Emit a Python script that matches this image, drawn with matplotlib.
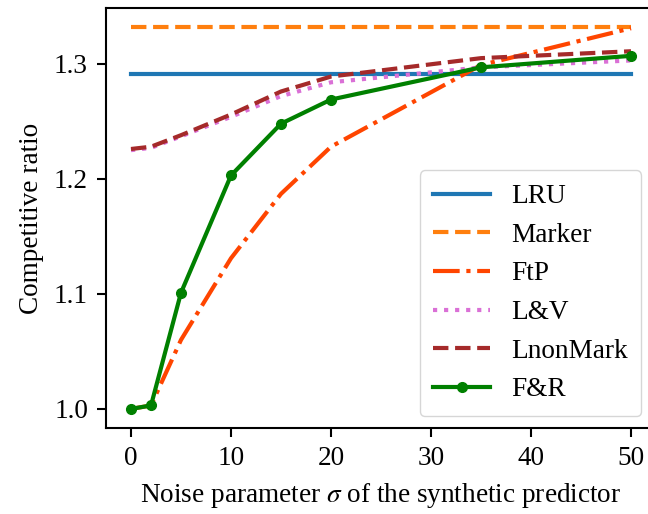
import matplotlib
matplotlib.use("Agg")
import matplotlib.pyplot as plt

sigma = [0, 2, 5, 10, 15, 20, 35, 50]
lru = [1.291] * len(sigma)
marker = [1.332] * len(sigma)
ftp = [1.000, 1.003, 1.060, 1.131, 1.187, 1.228, 1.299, 1.331]
lv = [1.225, 1.227, 1.237, 1.254, 1.272, 1.284, 1.297, 1.303]
lnonmark = [1.226, 1.228, 1.238, 1.256, 1.276, 1.289, 1.305, 1.311]
fr = [1.000, 1.003, 1.101, 1.203, 1.248, 1.269, 1.297, 1.307]

plt.rcParams['font.family'] = ['Liberation Serif', 'DejaVu Serif']
plt.rcParams['mathtext.fontset'] = 'stix'
fs = 19.6

W, H = 648, 514
fig = plt.figure(figsize=(W / 100, H / 100), dpi=100)
ax = fig.add_axes([106 / W, 1 - 428 / H, (656 - 106) / W, (428 - 8) / H])

lw = 3.0
ax.plot(sigma, lru, color='tab:blue', lw=lw, label='LRU')
ax.plot(sigma, marker, color='tab:orange', lw=lw, ls='--', label='Marker')
ax.plot(sigma, ftp, color='orangered', lw=lw, ls='-.', label='FtP')
ax.plot(sigma, lv, color='orchid', lw=lw, ls=':', label='L&V')
ax.plot(sigma, lnonmark, color='brown', lw=lw, ls='--', label='LnonMark')
ax.plot(sigma, fr, color='green', lw=lw, marker='o', ms=7, label='F&R')

ax.set_xticks([0, 10, 20, 30, 40, 50])
ax.set_yticks([1.0, 1.1, 1.2, 1.3])
ax.tick_params(labelsize=fs, width=1.5, length=6.5, pad=6.5)
for s in ax.spines.values():
    s.set_linewidth(1.5)
ax.set_xlabel(r'Noise parameter $\sigma$ of the synthetic predictor', fontsize=fs, labelpad=7)
ax.set_ylabel('Competitive ratio', fontsize=fs, labelpad=7)

ax.legend(loc='lower right', bbox_to_anchor=(641 / W, 1 - 416 / H),
          bbox_transform=fig.transFigure, borderaxespad=0, fontsize=fs,
          handlelength=2.1, handletextpad=0.75, borderpad=0.5,
          framealpha=0.8, fancybox=True)

fig.savefig('out.png', dpi=100)
